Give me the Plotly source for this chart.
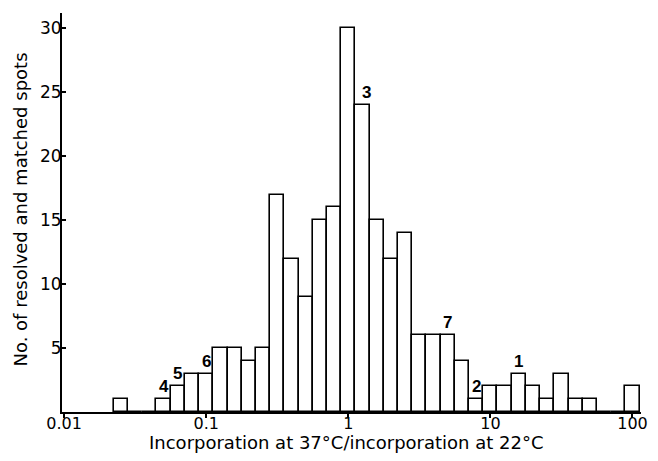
import plotly.graph_objects as go

# Bin centres (log10 of ratio) and counts
bin_log10 = [-1.6, -1.5, -1.4, -1.3, -1.2, -1.1, -1.0, -0.9, -0.8, -0.7,
             -0.6, -0.5, -0.4, -0.3, -0.2, -0.1, 0.0, 0.1, 0.2, 0.3,
             0.4, 0.5, 0.6, 0.7, 0.8, 0.9, 1.0, 1.1, 1.2, 1.3,
             1.4, 1.5, 1.6, 1.7, 1.8, 1.9, 2.0]
counts = [1, 0, 0, 1, 2, 3, 3, 5, 5, 4,
          5, 17, 12, 9, 15, 16, 30, 24, 15, 12,
          14, 6, 6, 6, 4, 1, 2, 2, 3, 2,
          1, 3, 1, 1, 0, 0, 2]

# Numbered spot labels
label_text = ["4", "5", "6", "3", "7", "2", "1"]
label_bins = [-1.3, -1.2, -1.0, 0.1, 0.7, 0.9, 1.2]

x_tick_vals = [-2, -1, 0, 1, 2]
x_tick_text = ["0.01", "0.1", "1", "10", "100"]
y_tick_vals = [5, 10, 15, 20, 25, 30]

x_title = "Incorporation at 37°C/incorporation at 22°C"
y_title = "No. of resolved and matched spots"

FONT = "DejaVu Sans, sans-serif"
LFONT = "Liberation Sans, Arial, sans-serif"

fig = go.Figure()
fig.add_trace(go.Bar(
    x=bin_log10, y=counts, width=0.1,
    marker=dict(color="white", line=dict(color="black", width=1.6)),
    showlegend=False,
))

for t, b in zip(label_text, label_bins):
    c = counts[bin_log10.index(b)]
    fig.add_annotation(x=b, y=c, text="<b>" + t + "</b>", showarrow=False,
                       yanchor="bottom", yshift=1,
                       xshift=4 if t == "3" else 0,
                       font=dict(size=17, color="black", family=LFONT))

# axis titles as paper-anchored annotations
fig.add_annotation(xref="paper", yref="paper", x=0.5, y=0, xshift=-5,
                   yshift=-30, yanchor="middle", showarrow=False,
                   text=x_title, font=dict(size=18, color="black", family=FONT))
fig.add_annotation(xref="paper", yref="paper", x=0, y=0.5, xshift=-42,
                   yshift=3, xanchor="center", yanchor="middle",
                   textangle=-90, showarrow=False,
                   text=y_title, font=dict(size=18, color="black", family=FONT))

# The page body has an 8px default margin, so the figure is 8px smaller
fig.update_layout(
    width=650, height=453,
    margin=dict(l=54, r=17, t=5, b=49),
    paper_bgcolor="white", plot_bgcolor="white",
    font=dict(family=FONT, size=16, color="black"),
    bargap=0,
    xaxis=dict(
        range=[-2.015, 2.06], automargin=False,
        tickvals=x_tick_vals, ticktext=x_tick_text,
        ticks="outside", ticklen=4, tickwidth=1.5, tickcolor="black",
        ticklabelstandoff=-8,
        showline=True, linecolor="black", linewidth=2,
        showgrid=False, zeroline=False,
        tickfont=dict(size=16),
    ),
    yaxis=dict(
        range=[0, 31.2], automargin=False,
        tickvals=y_tick_vals,
        ticks="inside", ticklen=4, tickwidth=1.5, tickcolor="black",
        ticklabelstandoff=-5,
        showline=True, linecolor="black", linewidth=2,
        showgrid=False, zeroline=False,
        tickfont=dict(size=17),
    ),
)

fig.write_html("out.html")
